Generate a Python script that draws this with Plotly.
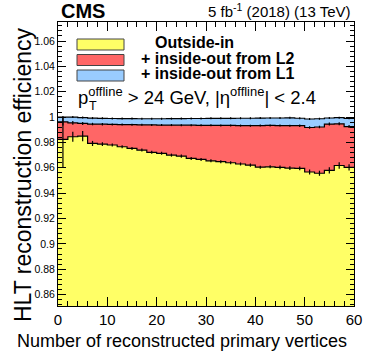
import plotly.graph_objects as go

# bins of 2 vertices from 0 to 60
bin_edges = list(range(0, 62, 2))
bin_centers = [e + 1 for e in bin_edges[:-1]]

# efficiency per bin
outside_in = [0.9824, 0.9845, 0.9850, 0.9792, 0.9787, 0.9780, 0.9766, 0.9753, 0.9740, 0.9722,
              0.9714, 0.9700, 0.9692, 0.9674, 0.9666, 0.9655, 0.9648, 0.9640, 0.9630, 0.9621,
              0.9605, 0.9608, 0.9603, 0.9598, 0.9595, 0.9567, 0.9557, 0.9580, 0.9618, 0.9603]
plus_l2 = [0.9963, 0.9955, 0.9950, 0.9945, 0.9944, 0.9942, 0.9941, 0.9940, 0.9939, 0.9938,
           0.9937, 0.9937, 0.9936, 0.9936, 0.9935, 0.9935, 0.9934, 0.9934, 0.9933, 0.9932,
           0.9933, 0.9934, 0.9933, 0.9932, 0.9932, 0.9918, 0.9922, 0.9945, 0.9947, 0.9925]
plus_l1 = [1.0000, 1.0000, 0.9996, 0.9992, 0.9990, 0.9989, 0.9988, 0.9988, 0.9987, 0.9987,
           0.9987, 0.9988, 0.9988, 0.9989, 0.9989, 0.9990, 0.9990, 0.9990, 0.9991, 0.9991,
           0.9992, 0.9993, 0.9993, 0.9994, 0.9991, 0.9985, 0.9987, 0.9993, 0.9995, 0.9990]

# statistical uncertainties (up / down)
outside_in_err_up = [0.0176, 0.004, 0.004, 0.002, 0.0015, 0.0012, 0.0012, 0.0012, 0.0012, 0.0012,
                     0.0012, 0.0012, 0.0012, 0.0012, 0.0012, 0.0012, 0.0012, 0.0012, 0.0012, 0.0012,
                     0.0012, 0.0012, 0.0015, 0.0015, 0.0015, 0.002, 0.002, 0.0025, 0.0025, 0.0025]
outside_in_err_dn = [0.022, 0.004, 0.004, 0.002, 0.0015, 0.0012, 0.0012, 0.0012, 0.0012, 0.0012,
                     0.0012, 0.0012, 0.0012, 0.0012, 0.0012, 0.0012, 0.0012, 0.0012, 0.0012, 0.0012,
                     0.0012, 0.0012, 0.0015, 0.0015, 0.0015, 0.002, 0.002, 0.0025, 0.0025, 0.0025]
plus_l2_err = [0.003, 0.0015, 0.0012, 0.001, 0.001, 0.0008, 0.0008, 0.0008, 0.0008, 0.0008,
               0.0008, 0.0008, 0.0008, 0.0008, 0.0008, 0.0008, 0.0008, 0.0008, 0.0008, 0.0008,
               0.0008, 0.0008, 0.0008, 0.0008, 0.001, 0.001, 0.001, 0.0012, 0.0012, 0.0012]
plus_l1_err = [0.0008] * 30

y_tickvals = [0.86, 0.88, 0.90, 0.92, 0.94, 0.96, 0.98, 1.00, 1.02, 1.04, 1.06]
y_ticktext = ["0.86", "0.88", "0.9", "0.92", "0.94", "0.96", "0.98", "1", "1.02", "1.04", "1.06"]
x_tickvals = [0, 10, 20, 30, 40, 50, 60]

legend_labels = ["Outside-in", "+ inside-out from L2", "+ inside-out from L1"]
colors = {"yellow": "#ffff66", "red": "#ff6666", "blue": "#99ccff"}

FONT = "Liberation Sans, Arial, sans-serif"
W, H = 374, 360
L, R, T, B = 58, 354, 22, 306


def px(x):
    return (x - L) / (R - L)


def py(y):
    return (B - y) / (B - T)


def step_trace(vals, color):
    return go.Scatter(
        x=bin_edges, y=vals + [vals[-1]],
        mode="lines", line_shape="hv",
        line=dict(color="black", width=1.2),
        fill="tozeroy", fillcolor=color,
        hoverinfo="skip", showlegend=False,
    )


def err_trace(vals, up, dn):
    return go.Scatter(
        x=bin_centers, y=vals, mode="markers",
        marker=dict(size=0.1, color="black", opacity=0),
        error_y=dict(type="data", array=up, arrayminus=dn, width=0,
                     color="black", thickness=1.2, symmetric=False),
        hoverinfo="skip", showlegend=False,
    )


fig = go.Figure()
fig.add_trace(step_trace(plus_l1, colors["blue"]))
fig.add_trace(step_trace(plus_l2, colors["red"]))
fig.add_trace(step_trace(outside_in, colors["yellow"]))
fig.add_trace(err_trace(plus_l1, plus_l1_err, plus_l1_err))
fig.add_trace(err_trace(plus_l2, plus_l2_err, plus_l2_err))
fig.add_trace(err_trace(outside_in, outside_in_err_up, outside_in_err_dn))

axis_common = dict(
    showline=True, linecolor="black", linewidth=1, mirror="allticks",
    ticks="inside", tickcolor="black", showgrid=False, zeroline=False,
)
fig.update_xaxes(
    range=[0, 60], tickvals=x_tickvals, ticklen=9,
    tickfont=dict(family=FONT, size=15, color="black"),
    minor=dict(dtick=2, tick0=0, ticks="inside", ticklen=5, tickcolor="black", showgrid=False),
    **axis_common,
)
fig.update_yaxes(
    range=[0.851, 1.075], tickvals=y_tickvals, ticktext=y_ticktext, ticklen=8,
    tickfont=dict(family=FONT, size=10.5, color="black"),
    minor=dict(dtick=0.004, tick0=0.86, ticks="inside", ticklen=4, tickcolor="black", showgrid=False),
    **axis_common,
)

shapes = []
annotations = []
box_y = [44.5, 60, 75.5]
box_fill = [colors["yellow"], colors["red"], colors["blue"]]
text_x = [153, 139, 139]
for yc, fc, tx, lab in zip(box_y, box_fill, text_x, legend_labels):
    shapes.append(dict(type="rect", xref="paper", yref="paper",
                       x0=px(77), x1=px(124), y0=py(yc + 5.5), y1=py(yc - 5.5),
                       fillcolor=fc, line=dict(color="#444444", width=1)))
    annotations.append(dict(x=px(tx), y=py(yc - 2), xref="paper", yref="paper",
                            xanchor="left", yanchor="middle", showarrow=False,
                            text="<b>" + lab + "</b>",
                            font=dict(family=FONT, size=16, color="black")))

# kinematic selection
annotations.append(dict(x=px(76), y=py(96), xref="paper", yref="paper",
                        xanchor="left", yanchor="middle", showarrow=False,
                        text="p<sup>offline</sup> > 24 GeV, |η<sup>offline</sup>| < 2.4",
                        font=dict(family=FONT, size=18.5, color="black")))
annotations.append(dict(x=px(87), y=py(106), xref="paper", yref="paper",
                        xanchor="left", yanchor="middle", showarrow=False,
                        text="T", font=dict(family=FONT, size=12.5, color="black")))

# CMS label and luminosity
annotations.append(dict(x=px(59), y=py(11), xref="paper", yref="paper",
                        xanchor="left", yanchor="middle", showarrow=False,
                        text="<b>CMS</b>", font=dict(family=FONT, size=20, color="black")))
annotations.append(dict(x=px(353), y=py(11), xref="paper", yref="paper",
                        xanchor="right", yanchor="middle", showarrow=False,
                        text="5 fb<sup>-1</sup> (2018) (13 TeV)",
                        font=dict(family=FONT, size=15, color="black")))

# axis titles
annotations.append(dict(x=px(349), y=py(341), xref="paper", yref="paper",
                        xanchor="right", yanchor="middle", showarrow=False,
                        text="Number of reconstructed primary vertices",
                        font=dict(family=FONT, size=18, color="black")))
annotations.append(dict(x=px(23), y=py(175), xref="paper", yref="paper",
                        xanchor="center", yanchor="middle", showarrow=False,
                        textangle=-90, text="HLT reconstruction efficiency",
                        font=dict(family=FONT, size=23, color="black")))

fig.update_layout(
    width=W, height=H,
    margin=dict(l=L, r=W - R, t=T, b=H - B),
    paper_bgcolor="white", plot_bgcolor="white",
    showlegend=False, shapes=shapes, annotations=annotations,
)

fig.write_html("out.html", config={"displayModeBar": False},
               post_script="document.body.style.margin='0';")
